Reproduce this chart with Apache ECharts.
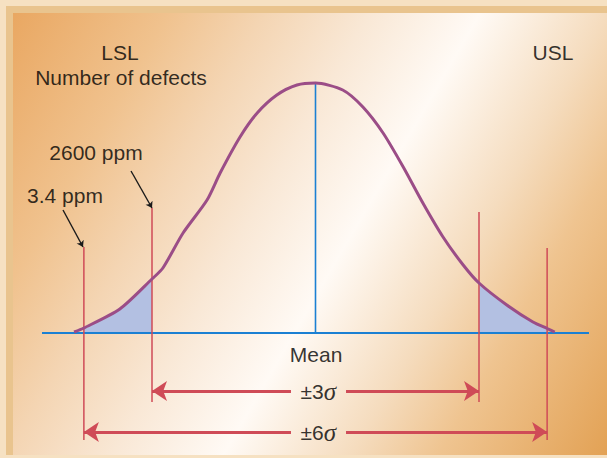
<!DOCTYPE html>
<html>
<head>
<meta charset="utf-8">
<script src="https://cdn.jsdelivr.net/npm/echarts@6/dist/echarts.min.js"></script>
<style>
    html, body { margin: 0; padding: 0; }
    #main { width: 607px; height: 458px; }
</style>
</head>
<body>
<div id="main"></div>
<script>
// bell curve: x in sigma units from the mean, y relative to the peak
const curveX = [-4.43, -4.25, -3.59, -3.0, -2.8, -2.43, -1.99, -1.75, -1.385, -1.07, -0.71, -0.34, 0,
    0.5, 0.87, 1.24, 1.61, 1.97, 2.34, 2.71, 3.0, 3.51, 3.99, 4.25, 4.39];
const curveY = [0.004, 0.02, 0.096, 0.216, 0.26, 0.40, 0.532, 0.64, 0.784, 0.88, 0.952, 0.992, 1.0,
    0.972, 0.904, 0.80, 0.664, 0.52, 0.384, 0.272, 0.20, 0.112, 0.044, 0.018, 0.004];
// shaded tails (defects)
const tailLeft = [-4.25, -3];
const tailRight = [3, 4.25];
// red limit lines: position, top, bottom
const limitX = [-4.25, -3, 3, 4.25];
const limitTop = [0.344, 0.50, 0.484, 0.34];
const limitBottom = [-0.428, -0.276, -0.276, -0.428];
// spans at the bottom
const spanText = ["±3", "±6"];
const spanY = [-0.232, -0.396];
const spanFrom = [-3, -4.25];
const spanTo = [3, 4.25];
const spanGap = [-0.45, 0.56];
// baseline and mean
const baseFrom = -5.07;
const baseTo = 5.055;
const meanX = 0;
// labels
const labelText = ["LSL", "Number of defects", "USL", "2600 ppm", "3.4 ppm", "Mean"];
const labelX = [-3.587, -3.569, 4.358, -4.028, -4.596, 0.01];
const labelY = [1.124, 1.024, 1.124, 0.724, 0.552, -0.084];
// pointer arrows from ppm labels to the limit lines
const pointerFrom = [[-3.385, 0.648], [-4.633, 0.492]];
const pointerTo = [[-3.0, 0.50], [-4.266, 0.344]];

const RED = "#cf4b57";
const BLUE = "#1b80d3";

let curve = curveX.map((x, i) => [x, curveY[i]]);
let tail = (r) => curve.filter(p => p[0] >= r[0] && p[0] <= r[1]);

let series = [];
// tails
[tailLeft, tailRight].forEach(r => {
    series.push({
        type: "line",
        data: tail(r),
        smooth: 0.25,
        symbol: "none",
        lineStyle: {width: 0},
        areaStyle: {color: "#b3c0e2", opacity: 1},
        z: 2
    });
});
// baseline + mean line
series.push({
    type: "line",
    data: [[baseFrom, 0], [baseTo, 0]],
    symbol: "none",
    lineStyle: {color: BLUE, width: 2},
    z: 3
});
series.push({
    type: "line",
    data: [[meanX, 0], [meanX, 1]],
    symbol: "none",
    lineStyle: {color: BLUE, width: 1.6},
    z: 3
});
// limit lines
limitX.forEach((x, i) => {
    series.push({
        type: "line",
        data: [[x, limitBottom[i]], [x, limitTop[i]]],
        symbol: "none",
        lineStyle: {color: RED, width: 1.5},
        z: 4
    });
});
// curve
series.push({
    type: "line",
    data: curve,
    smooth: 0.25,
    symbol: "none",
    lineStyle: {color: "#9b4d87", width: 3},
    z: 5
});
// span arrows
let arrowData = [];
spanY.forEach((y, i) => {
    arrowData.push({coords: [[spanGap[0], y], [spanFrom[i], y]]});
    arrowData.push({coords: [[spanGap[1], y], [spanTo[i], y]]});
});
series.push({
    type: "lines",
    coordinateSystem: "cartesian2d",
    symbol: ["none", "arrow"],
    symbolSize: 15,
    lineStyle: {color: RED, width: 3, opacity: 1},
    data: arrowData,
    z: 6
});
// pointer arrows
series.push({
    type: "lines",
    coordinateSystem: "cartesian2d",
    symbol: ["none", "arrow"],
    symbolSize: 6,
    lineStyle: {color: "#1a1a1a", width: 1.4, opacity: 1},
    data: pointerFrom.map((p, i) => ({coords: [p, pointerTo[i]]})),
    z: 6
});
// text labels
series.push({
    type: "scatter",
    symbolSize: 0,
    z: 7,
    label: {
        show: true,
        position: "inside",
        formatter: (p) => p.name,
        color: "#000",
        fontSize: 21,
        fontFamily: "Liberation Sans, Arial, sans-serif"
    },
    data: labelText.map((t, i) => ({name: t, value: [labelX[i], labelY[i]]}))
});
series.push({
    type: "scatter",
    symbolSize: 0,
    z: 7,
    label: {
        show: true,
        position: "inside",
        formatter: (p) => "{a|" + p.name + "}{s|σ}",
        rich: {
            a: {color: "#000", fontSize: 21, fontFamily: "Liberation Sans, Arial, sans-serif"},
            s: {color: "#000", fontSize: 25, fontStyle: "italic", fontFamily: "Liberation Serif, serif"}
        }
    },
    data: spanText.map((t, i) => ({name: t, value: [0.05, spanY[i]]}))
});

let option = {
    animation: false,
    graphic: [
        {type: "rect", shape: {x: 0, y: 0, width: 607, height: 458}, style: {fill: "#f6e1c2"}, z: 0, silent: true},
        {type: "rect", shape: {x: 6, y: 6, width: 601, height: 449}, style: {fill: "#e9c48e"}, z: 0, silent: true},
        {
            type: "rect",
            shape: {x: 13, y: 13, width: 594, height: 442},
            style: {
                fill: new echarts.graphic.LinearGradient(0, 0, 657, 382, [
                    {offset: 0, color: "#e7a35d"},
                    {offset: 0.04, color: "#eaaa66"},
                    {offset: 0.2, color: "#f0c28e"},
                    {offset: 0.31, color: "#f4d5b3"},
                    {offset: 0.43, color: "#f9e8d6"},
                    {offset: 0.555, color: "#fffaf5"},
                    {offset: 0.7, color: "#f5dcbe"},
                    {offset: 0.8, color: "#efc490"},
                    {offset: 1, color: "#e2a052"}
                ], true)
            },
            z: 0,
            silent: true
        }
    ],
    grid: {left: 43, right: 19, top: 8, bottom: 0},
    xAxis: {type: "value", min: -5, max: 5, show: false, splitLine: {show: false}},
    yAxis: {type: "value", min: -0.5, max: 1.3, show: false, splitLine: {show: false}},
    series: series
};

let chart = echarts.init(document.getElementById("main"), null, {renderer: "svg"});
chart.setOption(option);
</script>
</body>
</html>
